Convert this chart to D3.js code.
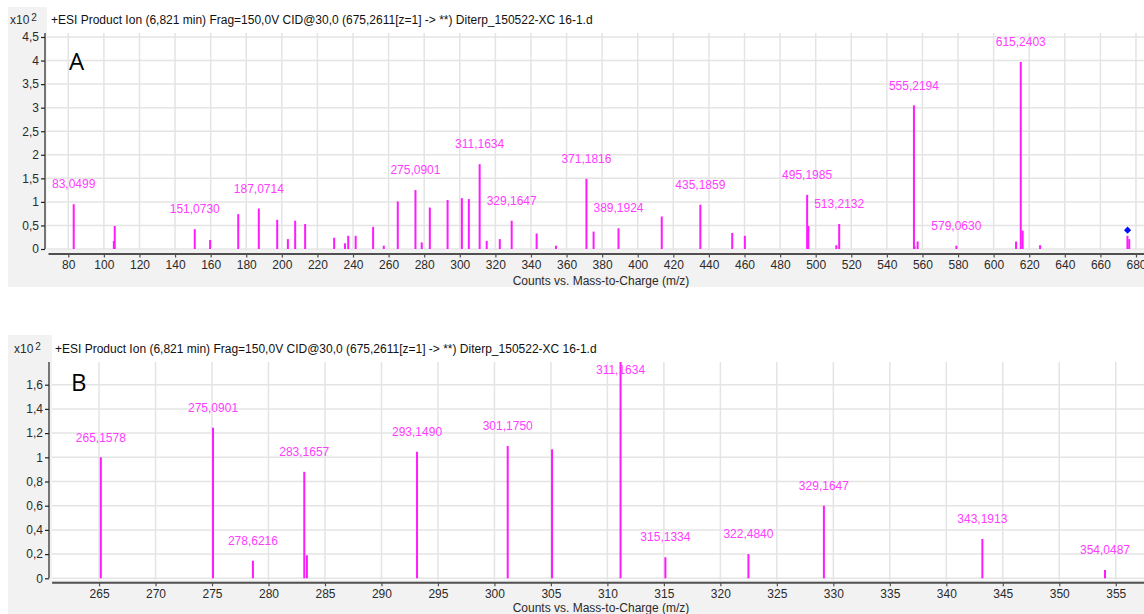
<!DOCTYPE html>
<html>
<head>
<meta charset="utf-8">
<script src="https://cdn.jsdelivr.net/npm/d3@7"></script>
<style>
  html, body { margin: 0; padding: 0; background: #ffffff; }
  svg { display: block; font-family: "Liberation Sans", Arial, sans-serif; }
</style>
</head>
<body>
<svg id="chart" width="1144" height="614"></svg>
<script>
// ---------------- DATA ----------------
const titleText = "+ESI Product Ion (6,821 min) Frag=150,0V CID@30,0 (675,2611[z=1] -> **) Diterp_150522-XC 16-1.d";
const axisTitle = "Counts vs. Mass-to-Charge (m/z)";

// Panel A peaks (m/z, intensity x10^2)
const peaksA_mz  = [83.0499, 105.6, 106.1, 151.0730, 159.7, 175.5, 187.0714, 197.4, 203.4, 207.5, 213.1,
                    229.4, 235.5, 237.3, 241.5, 251.3, 257.3, 265.1578, 275.0901, 278.6216, 283.1657,
                    293.1490, 301.1750, 305.1, 311.1634, 315.1334, 322.4840, 329.1647, 343.1913, 354.0487,
                    371.1816, 375.2, 389.1924, 413.5, 435.1859, 453.1, 460.2, 495.1985, 495.9, 511.6,
                    513.2132, 555.2194, 555.6, 557.3, 579.0630, 612.6, 615.2403, 616.3, 626.1, 675.2, 676.2];
const peaksA_int = [0.95, 0.17, 0.49, 0.42, 0.19, 0.74, 0.86, 0.62, 0.21, 0.60, 0.53,
                    0.24, 0.12, 0.28, 0.28, 0.47, 0.07, 1.01, 1.25, 0.14, 0.88,
                    1.04, 1.08, 1.06, 1.80, 0.17, 0.21, 0.60, 0.33, 0.07,
                    1.49, 0.37, 0.44, 0.69, 0.94, 0.34, 0.28, 1.15, 0.49, 0.08,
                    0.53, 3.05, 0.06, 0.16, 0.07, 0.16, 3.97, 0.39, 0.08, 0.28, 0.21];
const labelsA = ["83,0499", "151,0730", "187,0714", "275,0901", "311,1634", "329,1647", "371,1816",
                 "389,1924", "435,1859", "495,1985", "513,2132", "555,2194", "579,0630", "615,2403"];
const precursorMz  = [675.2611];
const precursorInt = [0.40];
const xTicksA = [80,100,120,140,160,180,200,220,240,260,280,300,320,340,360,380,400,420,440,460,480,500,520,540,560,580,600,620,640,660,680];
const yTicksA = [0, 0.5, 1, 1.5, 2, 2.5, 3, 3.5, 4, 4.5];

// Panel B peaks (zoom 260–357)
const peaksB_mz  = [265.1578, 275.0901, 278.6216, 283.1657, 283.4, 293.1490, 301.1750, 305.1,
                    311.1634, 315.1334, 322.4840, 329.1647, 343.1913, 354.0487];
const peaksB_int = [1.00, 1.245, 0.145, 0.88, 0.19, 1.046, 1.093, 1.066,
                    1.80, 0.174, 0.20, 0.60, 0.325, 0.069];
const labelsB = ["265,1578", "275,0901", "278,6216", "283,1657", "293,1490", "301,1750", "311,1634",
                 "315,1334", "322,4840", "329,1647", "343,1913", "354,0487"];
const xTicksB = [265,270,275,280,285,290,295,300,305,310,315,320,325,330,335,340,345,350,355];
const yTicksB = [0, 0.2, 0.4, 0.6, 0.8, 1, 1.2, 1.4, 1.6];

// ---------------- DRAW ----------------
const svg = d3.select("#chart");
const fmt = v => String(+v.toFixed(2)).replace(".", ",");
const PEAK = "#ff1aff", LABEL = "#ff3cff", GRID = "#e4e4e4", AXIS = "#505050", TXT = "#2a2a2a";
const FS = 12;

function panel(cfg) {
  const g = svg.append("g");
  g.append("rect").attr("x", 8).attr("y", cfg.top).attr("width", 1136).attr("height", cfg.bgH).attr("fill", "#f2f2f2");
  g.append("rect").attr("x", cfg.whiteX).attr("y", cfg.top).attr("width", 1144 - cfg.whiteX).attr("height", cfg.whiteBottom - cfg.top).attr("fill", "#ffffff");

  const x = cfg.x, y = cfg.y;
  const plotTop = cfg.plotTop, plotBottom = cfg.whiteBottom;

  g.append("g").selectAll("line").data(cfg.xTicks).join("line")
    .attr("x1", d => x(d)).attr("x2", d => x(d)).attr("y1", plotTop).attr("y2", plotBottom)
    .attr("stroke", GRID).attr("stroke-width", 1.5);
  g.append("g").selectAll("line").data(cfg.yTicks).join("line")
    .attr("x1", cfg.whiteX).attr("x2", 1144).attr("y1", d => y(d)).attr("y2", d => y(d))
    .attr("stroke", GRID).attr("stroke-width", 1.5);

  const cid = "clip" + cfg.name;
  svg.append("clipPath").attr("id", cid).append("rect")
    .attr("x", cfg.whiteX).attr("y", plotTop).attr("width", 1144 - cfg.whiteX).attr("height", plotBottom - plotTop);

  const peaks = cfg.mz.map((m, i) => ({ mz: m, v: cfg.int[i] }));
  g.append("g").attr("clip-path", `url(#${cid})`).selectAll("line").data(peaks).join("line")
    .attr("x1", d => x(d.mz)).attr("x2", d => x(d.mz))
    .attr("y1", y(0)).attr("y2", d => y(d.v))
    .attr("stroke", PEAK).attr("stroke-width", 2);

  const labs = cfg.labels.map(t => {
    const m = parseFloat(t.replace(",", "."));
    const p = peaks.reduce((a, b) => Math.abs(b.mz - m) < Math.abs(a.mz - m) ? b : a);
    return { t, mz: p.mz, v: p.v };
  });
  g.append("g").selectAll("text").data(labs).join("text")
    .attr("x", d => x(d.mz)).attr("y", d => Math.max(y(d.v) - 20, plotTop + 8))
    .attr("dy", "0.35em").attr("text-anchor", "middle")
    .attr("font-size", FS).attr("fill", LABEL).text(d => d.t);

  const ya = d3.axisLeft(y).tickValues(cfg.yTicks).tickSize(4).tickPadding(2).tickSizeOuter(0).tickFormat(fmt);
  const yg = g.append("g").attr("transform", `translate(${cfg.yAxisX},0)`).call(ya);
  yg.select(".domain").remove();
  yg.selectAll(".tick line").attr("stroke", "#222").attr("stroke-width", 1.2);
  yg.selectAll(".tick text").attr("font-size", FS).attr("fill", TXT).attr("font-family", "Liberation Sans, Arial, sans-serif");
  g.append("line").attr("x1", cfg.yAxisX).attr("x2", cfg.yAxisX).attr("y1", plotTop).attr("y2", y(0))
    .attr("stroke", "#222").attr("stroke-width", 1.2);

  const xa = d3.axisBottom(x).tickValues(cfg.xTicks).tickSize(4).tickPadding(3).tickSizeOuter(0).tickFormat(d => d);
  const xg = g.append("g").attr("transform", `translate(0,${cfg.xAxisY})`).call(xa);
  xg.select(".domain").attr("stroke", AXIS).attr("stroke-width", 2);
  xg.selectAll(".tick line").attr("stroke", AXIS).attr("stroke-width", 1.2);
  xg.selectAll(".tick text").attr("font-size", FS).attr("fill", TXT).attr("font-family", "Liberation Sans, Arial, sans-serif");

  g.append("text").attr("x", 601).attr("y", cfg.axisTitleY).attr("dy", "0.35em").attr("text-anchor", "middle")
    .attr("font-size", FS).attr("fill", TXT).text(axisTitle);

  g.append("text").attr("x", cfg.titleX).attr("y", cfg.titleY).attr("dy", "0.35em")
    .attr("font-size", FS).attr("fill", "#111").text(titleText);
  const xt = g.append("text").attr("x", cfg.x10X).attr("y", cfg.titleY).attr("dy", "0.35em")
    .attr("font-size", FS).attr("fill", TXT);
  xt.append("tspan").text("x10");
  xt.append("tspan").attr("dx", 2).attr("dy", "-0.3em").attr("font-size", 10).text("2");

  g.append("text").attr("x", cfg.letterX).attr("y", cfg.letterY).attr("dy", "0.35em")
    .attr("font-family", "Open Sans, Liberation Sans, sans-serif").attr("font-size", 24).attr("fill", "#000").text(cfg.letter);

  return { x, y, g };
}

// Panel A
const pA = panel({
  name: "A", top: 7, bgH: 280, whiteX: 47, whiteBottom: 250, plotTop: 33,
  x: d3.scaleLinear().domain([68.6, 684.5]).range([48, 1144]),
  y: d3.scaleLinear().domain([0, 4.5]).range([249, 37]),
  xTicks: xTicksA, yTicks: yTicksA, mz: peaksA_mz, int: peaksA_int, labels: labelsA,
  yAxisX: 45, xAxisY: 253.5, axisTitleY: 281, titleX: 51, titleY: 20, x10X: 10,
  letter: "A", letterX: 69, letterY: 62
});
// precursor marker (diamond)
pA.g.append("g").selectAll("path").data(precursorMz.map((m, i) => ({ mz: m, v: precursorInt[i] }))).join("path")
  .attr("transform", d => `translate(${pA.x(d.mz)},${pA.y(d.v)}) rotate(45)`)
  .attr("d", d3.symbol(d3.symbolSquare, 26))
  .attr("fill", "#0010ff");

// Panel B
panel({
  name: "B", top: 335, bgH: 279, whiteX: 52, whiteBottom: 580, plotTop: 362,
  x: d3.scaleLinear().domain([260.8, 357.5]).range([51.6, 1144]),
  y: d3.scaleLinear().domain([0, 1.6]).range([578.3, 384.7]),
  xTicks: xTicksB, yTicks: yTicksB, mz: peaksB_mz, int: peaksB_int, labels: labelsB,
  yAxisX: 49, xAxisY: 582.3, axisTitleY: 608, titleX: 55, titleY: 349, x10X: 14,
  letter: "B", letterX: 71, letterY: 383
});
</script>
</body>
</html>
